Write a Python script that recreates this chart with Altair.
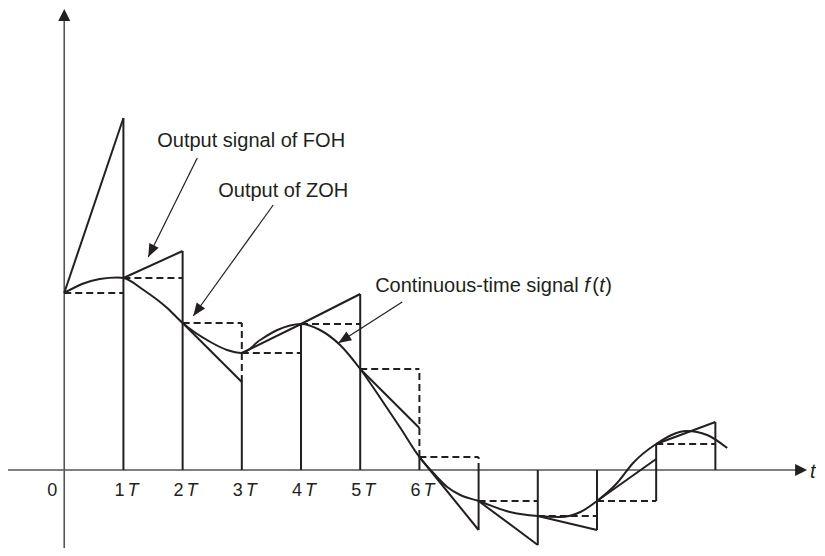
import math
import altair as alt
import pandas as pd

# ---------------- data ----------------
# sample instants (in units of T) and sampled values f(kT)
t_k = [0, 1, 2, 3, 4, 5, 6, 7, 8, 9, 10]
f_k = [17.7, 19.2, 14.7, 11.7, 14.6, 10.1, 1.3, -3.1, -4.6, -3.1, 2.6]
# end value of each first-order-hold ramp (at (k+1)T)
foh_end = [35.2, 21.9, 8.8, 14.6, 17.6, 4.2, -6.0, -7.5, -6.0, 1.1, 4.8]
# solid vertical lines of the FOH output
fv_t = [1, 2, 3, 4, 5, 6, 7, 8, 9, 10, 11]
fv_lo = [0, 0, 0, 0, 0, 0, 0, 0, 0, -3.1, 0]
fv_hi = [35.2, 21.9, 8.8, 14.6, 17.6, 1.3, -6.0, -7.5, -6.0, 2.6, 4.8]
# visible dashed vertical pieces of the ZOH staircase
dv_t = [3, 6, 7]
dv_lo = [8.8, 1.3, 0]
dv_hi = [14.7, 10.1, 1.3]
# continuous-time signal f(t)
curve_t = [0, 0.3, 0.6, 0.9, 1.0, 1.34, 1.74, 2.0, 2.47, 2.75, 3.0, 3.31, 3.6, 4.0,
           4.32, 4.66, 5.0, 5.34, 5.68, 6.0, 6.22, 6.47, 6.69, 7.0, 7.53, 8.0,
           8.38, 8.72, 9.0, 9.34, 9.61, 10.0, 10.52, 10.86, 11.2]
curve_v = [17.7, 18.6, 19.1, 19.25, 19.2, 18.0, 16.2, 14.7, 12.8, 12.0, 11.7, 13.0, 14.0, 14.6,
           14.0, 12.5, 10.1, 7.2, 4.2, 1.3, -0.2, -1.7, -2.5, -3.1, -4.2, -4.6,
           -4.7, -4.2, -3.1, -1.3, 0.7, 2.6, 3.9, 3.5, 2.2]
# tick labels
tick_num = ["1", "2", "3", "4", "5", "6"]
tick_pos = [1, 2, 3, 4, 5, 6]
# annotations: text, anchor (t, v); arrows start -> tip
ann_text = ["Output signal of FOH", "Output of ZOH", "Continuous-time signal"]
ann_t = [1.571, 2.601, 5.253]
ann_v = [32.3, 27.3, 17.8]
arr_t0 = [2.247, 3.53, 5.71]
arr_v0 = [31.2, 26.5, 16.8]
arr_t1 = [1.419, 2.18, 4.63]
arr_v1 = [21.3, 15.4, 12.7]

# ---------------- layout ----------------
T_MIN, T_MAX = -0.95, 12.7
V_MIN, V_MAX = -7.8, 46.2
W, H = 808, 540
PX_T = W / (T_MAX - T_MIN)
PX_V = H / (V_MAX - V_MIN)

INK = "#231f20"
AXIS = "#555555"
FONT = "Liberation Sans"

xs = alt.Scale(domain=[T_MIN, T_MAX], nice=False, zero=False)
ys = alt.Scale(domain=[V_MIN, V_MAX], nice=False, zero=False)


def X(f="t"):
    return alt.X(f"{f}:Q", scale=xs, axis=None)


def Y(f="v"):
    return alt.Y(f"{f}:Q", scale=ys, axis=None)


def angle_of(t0, v0, t1, v1):
    dx = (t1 - t0) * PX_T
    dy = -(v1 - v0) * PX_V
    return math.degrees(math.atan2(dx, -dy)) % 360


# axes
x_tip = 12.55
y_tip = 46.1
axes_df = pd.DataFrame({"t": [T_MIN, 0], "v": [0, V_MIN], "t2": [x_tip - 0.1, 0], "v2": [0, y_tip - 0.6]})
axes = alt.Chart(axes_df).mark_rule(color=AXIS, strokeWidth=1.6).encode(
    x=X(), y=Y(), x2="t2:Q", y2="v2:Q")
axis_heads_df = pd.DataFrame({"t": [x_tip, 0], "v": [0, y_tip], "ang": [90, 0]})
axis_heads = alt.Chart(axis_heads_df).mark_point(
    shape="M0,0 L-0.5,1 L0.5,1 Z", filled=True, color=INK, opacity=1, size=576
).encode(x=X(), y=Y(), angle=alt.Angle("ang:Q", scale=None))

DASH = [7, 4]
# ZOH dashed staircase: hold levels and the visible vertical pieces
zh = pd.DataFrame({"t": t_k, "t2": [k + 1 for k in t_k], "v": f_k})
zoh_h = alt.Chart(zh).mark_rule(color=INK, strokeWidth=2, strokeDash=DASH).encode(
    x=X(), x2="t2:Q", y=Y())
zd = pd.DataFrame({"t": dv_t, "v": dv_lo, "v2": dv_hi})
zoh_v = alt.Chart(zd).mark_rule(color=INK, strokeWidth=2, strokeDash=DASH).encode(
    x=X(), y=Y(), y2="v2:Q")

# FOH ramps and verticals
fr = pd.DataFrame({"t": t_k, "v": f_k, "t2": [k + 1 for k in t_k], "v2": foh_end})
foh_r = alt.Chart(fr).mark_rule(color=INK, strokeWidth=2).encode(
    x=X(), y=Y(), x2="t2:Q", y2="v2:Q")
fv = pd.DataFrame({"t": fv_t, "v": fv_lo, "v2": fv_hi})
foh_v = alt.Chart(fv).mark_rule(color=INK, strokeWidth=2).encode(
    x=X(), y=Y(), y2="v2:Q")

# continuous-time signal
cv = pd.DataFrame({"t": curve_t, "v": curve_v})
curve = alt.Chart(cv).mark_line(color=INK, strokeWidth=2, interpolate="monotone").encode(
    x=X(), y=Y())

# annotation arrows
ar = pd.DataFrame({"t": arr_t0, "v": arr_v0, "t2": arr_t1, "v2": arr_v1})
arr_lines = alt.Chart(ar).mark_rule(color=INK, strokeWidth=1.2).encode(
    x=X(), y=Y(), x2="t2:Q", y2="v2:Q")
ah = pd.DataFrame({"t": arr_t1, "v": arr_v1,
                   "ang": [angle_of(a, b, c, d) for a, b, c, d in zip(arr_t0, arr_v0, arr_t1, arr_v1)]})
arr_heads = alt.Chart(ah).mark_point(
    shape="M0,0 L-0.4,1 L0.4,1 Z", filled=True, color=INK, opacity=1, size=676
).encode(x=X(), y=Y(), angle=alt.Angle("ang:Q", scale=None))

# annotation text
at = pd.DataFrame({"t": ann_t, "v": ann_v, "txt": ann_text})
ann = alt.Chart(at).mark_text(align="left", baseline="alphabetic", font=FONT, fontSize=20,
                              color=INK).encode(x=X(), y=Y(), text="txt:N")
fa = pd.DataFrame({"t": [ann_t[2]], "v": [ann_v[2]]})
f_it = alt.Chart(fa).mark_text(align="left", baseline="alphabetic", font=FONT, fontSize=20,
                               fontStyle="italic", color=INK, dx=209, text="f").encode(x=X(), y=Y())
p_open = alt.Chart(fa).mark_text(align="left", baseline="alphabetic", font=FONT, fontSize=20,
                                 color=INK, dx=217, text="(").encode(x=X(), y=Y())
t_it = alt.Chart(fa).mark_text(align="left", baseline="alphabetic", font=FONT, fontSize=20,
                               fontStyle="italic", color=INK, dx=224, text="t").encode(x=X(), y=Y())
p_close = alt.Chart(fa).mark_text(align="left", baseline="alphabetic", font=FONT, fontSize=20,
                                  color=INK, dx=230, text=")").encode(x=X(), y=Y())

# tick labels
tl = pd.DataFrame({"t": tick_pos, "v": [-2.6] * len(tick_pos), "txt": tick_num})
tnum = alt.Chart(tl).mark_text(align="right", baseline="alphabetic", font=FONT, fontSize=18,
                               color=INK, dx=1).encode(x=X(), y=Y(), text="txt:N")
tT = alt.Chart(tl).mark_text(align="left", baseline="alphabetic", font=FONT, fontSize=18,
                             fontStyle="italic", color=INK, dx=4, text="T").encode(x=X(), y=Y())
zero_df = pd.DataFrame({"t": [0], "v": [-2.6]})
zero = alt.Chart(zero_df).mark_text(align="right", baseline="alphabetic", font=FONT, fontSize=18,
                                    color=INK, dx=-7, text="0").encode(x=X(), y=Y())
tl_df = pd.DataFrame({"t": [12.6], "v": [-0.8]})
t_lab = alt.Chart(tl_df).mark_text(align="left", baseline="alphabetic", font=FONT, fontSize=20,
                                   fontStyle="italic", color=INK, text="t").encode(x=X(), y=Y())

chart = alt.layer(
    axes, axis_heads, zoh_h, zoh_v, foh_r, foh_v, curve,
    arr_lines, arr_heads, ann, f_it, p_open, t_it, p_close, tnum, tT, zero, t_lab
).properties(
    width=W, height=H, padding=0, autosize=alt.AutoSizeParams(type="none")
).configure_view(stroke=None)

chart.save("out.html", embed_options={"renderer": "svg", "actions": False})
